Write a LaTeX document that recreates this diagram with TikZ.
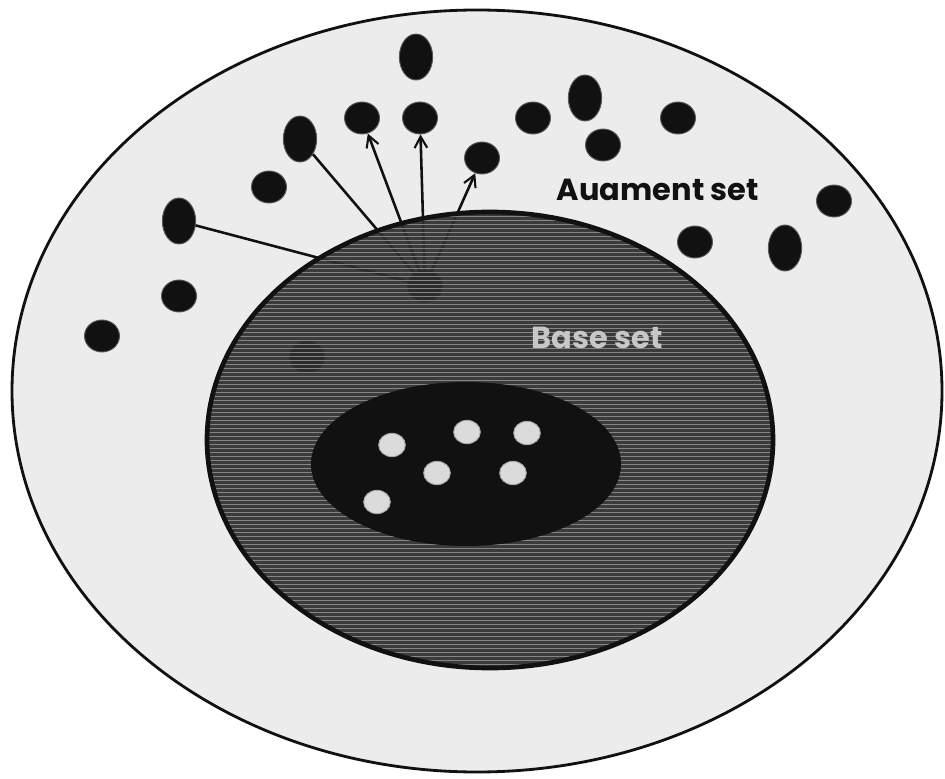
\documentclass[tikz,border=0pt]{standalone}
\usepackage{fontspec}
\usepackage{xcolor}
\usepackage{tikz}
\usetikzlibrary{arrows.meta,shapes.geometric}
\newfontfamily\labelfont{Poppins}
\definecolor{Ink}{HTML}{111111}
\definecolor{Haze}{HTML}{ECECEC}
\definecolor{Slate}{HTML}{2E2E2E}

\begin{document}
\begin{tikzpicture}[
  adot/.style={ellipse,fill=Ink,draw=Ink!70,line width=0.8pt,minimum width=1.05cm,minimum height=0.96cm,inner sep=0pt},
  tdot/.style={adot,minimum width=1.0cm,minimum height=1.38cm},
  rdot/.style={ellipse,fill=black!14,draw=black!35,line width=0.8pt,minimum width=0.8cm,minimum height=0.7cm,inner sep=0pt},
  link/.style={line width=2.2pt,color=Ink},
  linkto/.style={link,-{Straight Barb[length=3.4mm,width=3.8mm,line width=1.8pt]}},
  setlabel/.style={font=\labelfont\bfseries\fontsize{26}{30}\selectfont}
]
\useasboundingbox (0,0) rectangle (28.35,23.34);

\draw[fill=Haze,line width=2.4pt,color=Ink,fill=Haze] (14.31,11.61) ellipse (13.95 and 11.43);

\foreach \n/\x/\y in {a2/10.86/19.80,a3/12.60/19.80,a5/8.07/17.73,a7/5.37/14.46,
    a8/3.06/13.26,a9/14.46/18.60,a10/15.99/19.80,a12/18.09/18.99,a13/20.34/19.80,
    a14/25.02/17.31,a15/20.85/16.08,src/12.75/14.76,h1/9.21/12.63}
  \node[adot] (\n) at (\x,\y) {};
\foreach \n/\x/\y in {a1/12.48/21.63,a4/9.00/19.17,a6/5.37/16.71,a11/17.55/20.40,a16/23.55/15.90}
  \node[tdot] (\n) at (\x,\y) {};

\foreach \t in {a4,a6}
  \draw[link] (src.center)--(\t);
\foreach \t in {a2,a3,a9}
  \draw[linkto] (src.center)--(\t);

\fill[Slate,fill opacity=0.93] (14.70,10.14) ellipse (8.49 and 6.84);
\begin{scope}
  \clip (14.70,10.14) ellipse (8.49 and 6.84);
  \foreach \y in {3.30,3.42,...,17.00}
    \draw[black!48,line width=0.5pt] (6.1,\y)--(23.3,\y);
\end{scope}
\draw[Ink,line width=4pt] (14.70,10.14) ellipse (8.49 and 6.84);

\fill[Ink] (13.98,9.42) ellipse (4.65 and 2.46);
\foreach \n/\x/\y in {r1/11.76/9.99,r2/14.01/10.38,r3/15.81/10.35,
    r4/13.11/9.15,r5/15.39/9.15,r6/11.31/8.28}
  \node[rdot] (\n) at (\x,\y) {};

\node[setlabel,color=Ink] (aug) at (19.74,17.64) {Auament set};
\node[setlabel,color=black!22] (base) at (17.91,13.20) {Base set};
\end{tikzpicture}
\end{document}
